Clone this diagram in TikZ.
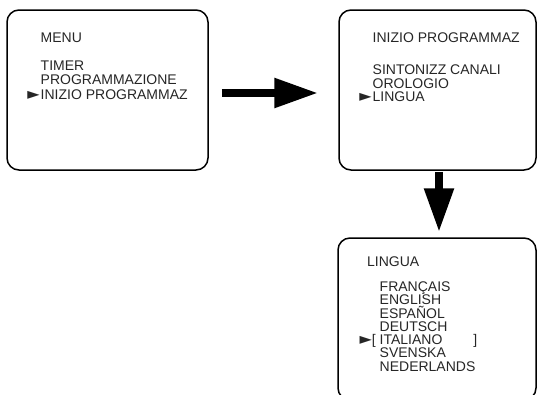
\documentclass[tikz,border=0pt]{standalone}
\usepackage{fontspec}
\setmainfont{Liberation Sans}
\newfontfamily\pointerfont{DejaVu Sans}
\newcommand{\pointer}{{\pointerfont\fontsize{16}{16}\selectfont ►}}
\usetikzlibrary{arrows.meta}
\begin{document}
\begin{tikzpicture}[x=1pt, y=-1pt,
    screen/.style={draw, line width=1.5pt, rounded corners=12pt, inner sep=0pt},
    menutext/.style={text=black!85, align=left, inner sep=0pt, anchor=north west, font=\fontsize{14}{#1}\selectfont},
    bigarrow/.style={line width=8.5pt, -{Triangle[length=44pt, width=28pt]}}]
    \useasboundingbox (0,0) rectangle (537,394);
    \clip (0,0) rectangle (537,394);

    % menu screens
    \node[screen, minimum width=201pt, minimum height=160pt] (screen1) at (107.5,90) {};
    \node[screen, minimum width=197pt, minimum height=160pt] (screen2) at (437.5,90) {};
    \node[screen, minimum width=198pt, minimum height=162pt] (screen3) at (437,319) {};

    \node[menutext=14.5] (title1) at (40.5,33) {MENU};
    \node[menutext=14.5] (list1) at (40.5,60.5) {TIMER\\PROGRAMMAZIONE\\\llap{\pointer\hspace{1pt}}INIZIO PROGRAMMAZ};

    \node[menutext=14.5] (title2) at (372.5,33) {INIZIO PROGRAMMAZ};
    \node[menutext=13.5] (list2) at (372.5,65) {SINTONIZZ CANALI\\OROLOGIO\\\llap{\pointer\hspace{1pt}}LINGUA};

    \node[menutext=14.5] (title3) at (367,256.5) {LINGUA};
    \node[menutext=13.3] (list3) at (379.5,281.5) {FRANÇAIS\\ENGLISH\\ESPAÑOL\\DEUTSCH\\\llap{\pointer[ }ITALIANO\hspace{31pt}]\\SVENSKA\\NEDERLANDS};

    \draw[bigarrow] ([xshift=13pt, yshift=-3pt]screen1.east) -- ([xshift=-20pt, yshift=-3pt]screen2.west);
    \draw[bigarrow] ([xshift=1.5pt, yshift=-1pt]screen2.south) -- ([xshift=2pt, yshift=5pt]screen3.north);
\end{tikzpicture}
\end{document}
